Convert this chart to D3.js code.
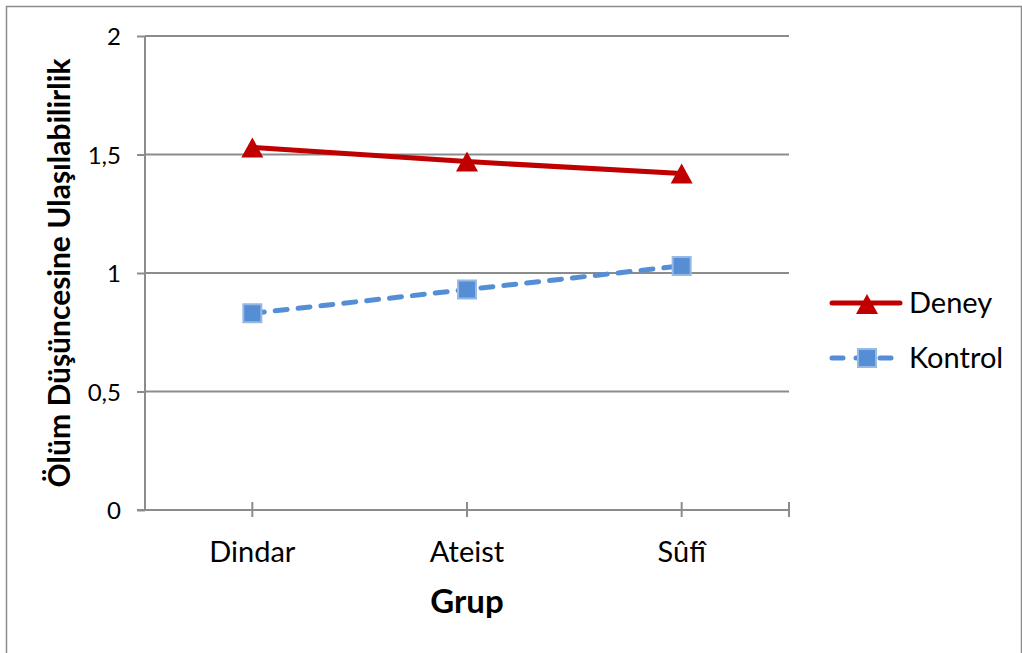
<!DOCTYPE html>
<html>
<head>
<meta charset="utf-8">
<script src="https://cdn.jsdelivr.net/npm/d3@7"></script>
<style>
  html, body { margin: 0; padding: 0; background: #fff; }
  svg { display: block; }
  text { font-family: Lato, "Open Sans", sans-serif; fill: #000; }
</style>
</head>
<body>
<svg id="chart" width="1022" height="653"></svg>
<script>
// Groups on the x axis
const categories = ["Dindar", "Ateist", "Sûfî"];
// Mean accessibility of death-related thought per group
const deneyValues = [1.53, 1.47, 1.42];
const kontrolValues = [0.83, 0.93, 1.03];
const yTicks = [0, 0.5, 1, 1.5, 2];
const seriesNames = ["Deney", "Kontrol"];

const svg = d3.select("#chart");
const plot = { left: 145, right: 789, top: 36, bottom: 510 };
const gray = "#8c8c8c";

// Outer frame (only the left and top edges fall inside the view)
svg.append("rect")
  .attr("x", 6.5).attr("y", 6.5)
  .attr("width", 1015).attr("height", 700)
  .attr("fill", "none").attr("stroke", gray).attr("stroke-width", 1.5);

const x = d3.scaleBand().domain(categories).range([plot.left, plot.right]).padding(0);
const xc = d => x(d) + x.bandwidth() / 2;
const y = d3.scaleLinear().domain([0, 2]).range([plot.bottom, plot.top]);
const fmt = d => String(d).replace(".", ",");

// Horizontal gridlines
svg.append("g").selectAll("line").data(yTicks.filter(t => t > 0)).join("line")
  .attr("x1", plot.left).attr("x2", plot.right)
  .attr("y1", d => y(d)).attr("y2", d => y(d))
  .attr("stroke", gray).attr("stroke-width", 2);

// Y axis
const yAxis = svg.append("g").attr("transform", `translate(${plot.left},0)`)
  .call(d3.axisLeft(y).tickValues(yTicks).tickFormat(fmt).tickSize(8).tickPadding(16));
yAxis.select(".domain").attr("stroke", gray).attr("stroke-width", 2)
  .attr("d", `M0,${plot.top}V${plot.bottom}`);
yAxis.selectAll(".tick line").attr("stroke", gray).attr("stroke-width", 2);
yAxis.selectAll(".tick text").style("font-size", "24px").style("font-family", "Lato, sans-serif")
  .attr("fill", "#000").attr("dy", "0.36em");

// X axis: tick marks cross the baseline at each category and at the far end
const xAxis = svg.append("g").attr("transform", `translate(0,${plot.bottom})`);
xAxis.append("line")
  .attr("x1", plot.left - 8).attr("x2", plot.right)
  .attr("stroke", gray).attr("stroke-width", 2);
const xTickPos = categories.map(xc).concat([plot.right]);
xAxis.selectAll("line.tk").data(xTickPos).join("line").attr("class", "tk")
  .attr("x1", d => d).attr("x2", d => d).attr("y1", -8).attr("y2", 7)
  .attr("stroke", gray).attr("stroke-width", 2);
xAxis.selectAll("text").data(categories).join("text")
  .attr("x", d => xc(d)).attr("y", 52)
  .attr("text-anchor", "middle").style("font-size", "29px").text(d => d);

// Axis titles
svg.append("text")
  .attr("x", xc(categories[1])).attr("y", 613)
  .attr("text-anchor", "middle").style("font-size", "33px").style("font-weight", "bold")
  .text("Grup");
svg.append("text")
  .attr("transform", `translate(70,${(plot.top + plot.bottom) / 2}) rotate(-90)`)
  .attr("text-anchor", "middle").style("font-size", "30px").style("font-weight", "bold")
  .text("Ölüm Düşüncesine Ulaşılabilirlik");

const line = d3.line().x((d, i) => xc(categories[i])).y(d => y(d));

const red = "#C00000", blue = "#558ED5", blueEdge = "#97b9e4";
// Marker shapes: triangle 22 wide x 20 tall, square 18 with a light edge
const triPath = "M0,-10L11,10L-11,10Z";
const sqPath = "M-9,-9H9V9H-9Z";

// Deney series
svg.append("path").datum(deneyValues).attr("d", line)
  .attr("fill", "none").attr("stroke", red).attr("stroke-width", 5);
svg.selectAll("path.tri").data(deneyValues).join("path").attr("class", "tri")
  .attr("d", triPath)
  .attr("transform", (d, i) => `translate(${xc(categories[i])},${y(d)})`)
  .attr("fill", red);

// Kontrol series
svg.append("path").datum(kontrolValues).attr("d", line)
  .attr("fill", "none").attr("stroke", blue).attr("stroke-width", 5)
  .attr("stroke-dasharray", "12,11").attr("stroke-linecap", "round");
svg.selectAll("path.sq").data(kontrolValues).join("path").attr("class", "sq")
  .attr("d", sqPath)
  .attr("transform", (d, i) => `translate(${xc(categories[i])},${y(d)})`)
  .attr("fill", blue).attr("stroke", blueEdge).attr("stroke-width", 2);

// Legend
const legend = svg.append("g");
const legY = [303, 358];
legend.append("line").attr("x1", 832).attr("x2", 900).attr("y1", legY[0]).attr("y2", legY[0])
  .attr("stroke", red).attr("stroke-width", 5).attr("stroke-linecap", "round");
legend.append("path").attr("d", triPath).attr("transform", `translate(867,${legY[0] + 1})`).attr("fill", red);
legend.append("line").attr("x1", 832).attr("x2", 891).attr("y1", legY[1]).attr("y2", legY[1])
  .attr("stroke", blue).attr("stroke-width", 5).attr("stroke-linecap", "round")
  .attr("stroke-dasharray", "11,13");
legend.append("path").attr("d", sqPath).attr("transform", `translate(867,${legY[1]})`)
  .attr("fill", blue).attr("stroke", blueEdge).attr("stroke-width", 2);
legend.selectAll("text").data(seriesNames).join("text")
  .attr("x", 909).attr("y", (d, i) => [313, 368][i])
  .style("font-size", "29px").text(d => d);
</script>
</body>
</html>
